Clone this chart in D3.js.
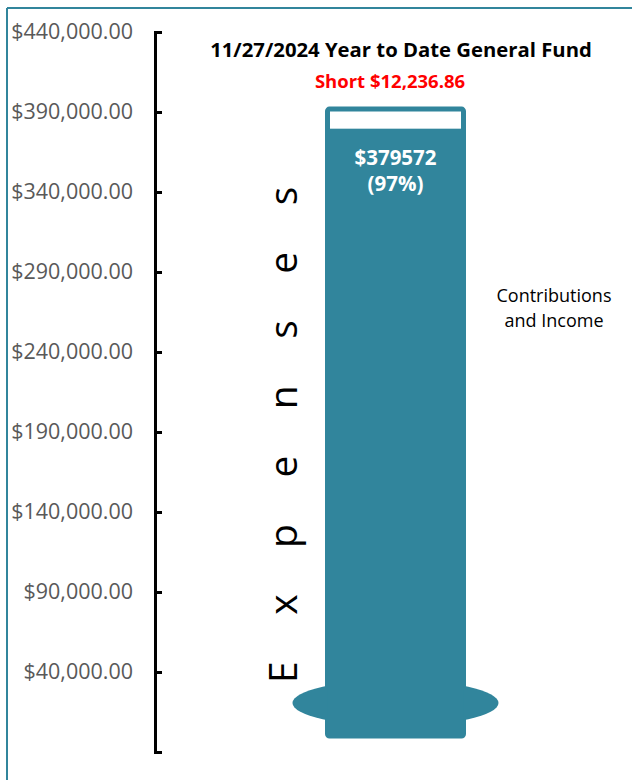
<!DOCTYPE html>
<html>
<head>
<meta charset="utf-8">
<script src="https://cdn.jsdelivr.net/npm/d3@7"></script>
<style>
  body { margin: 0; background: #fff; }
  svg { display: block; }
  text { font-family: "Open Sans", "Noto Sans", sans-serif; }
</style>
</head>
<body>
<div id="chart"></div>
<script>
// hodnoty grafu
var tickValues = [-10000, 40000, 90000, 140000, 190000, 240000, 290000, 340000, 390000, 440000];
var labelValues = [40000, 90000, 140000, 190000, 240000, 290000, 340000, 390000, 440000];
var raised = 379572;
var shortfall = 12236.86;
var goal = raised + shortfall;
var percent = 97;
var reportDate = "11/27/2024";
var sideLabels = ["Contributions", "and Income"];
var axisTitle = "Expenses";

var width = 632, height = 780;
var teal = "#31859C";

var svg = d3.select("#chart")
    .append("svg")
    .attr("width", width)
    .attr("height", height);

// orámovanie
svg.append("line").attr("x1", 7).attr("x2", 7).attr("y1", 8).attr("y2", height)
    .attr("stroke", teal).attr("stroke-width", 2);
svg.append("line").attr("x1", 7).attr("x2", width).attr("y1", 8).attr("y2", 8)
    .attr("stroke", teal).attr("stroke-width", 2);

// Y-ová os
var y = d3.scaleLinear()
    .domain([-10000, 440000])
    .range([752, 32]);

var fmt = d3.format("$,.2f");

svg.append("g")
    .attr("transform", "translate(155,0)")
    .call(d3.axisRight(y).tickValues(tickValues).tickSize(7).tickFormat(""))
    .call(function (g) {
        g.select(".domain").attr("stroke", "#000").attr("stroke-width", 3);
        g.selectAll(".tick line").attr("stroke", "#000").attr("stroke-width", 3);
    });

svg.append("g")
    .attr("transform", "translate(133,0)")
    .call(d3.axisLeft(y).tickValues(labelValues).tickSize(0).tickPadding(0).tickFormat(fmt))
    .call(function (g) {
        g.select(".domain").remove();
        g.selectAll("text")
            .attr("fill", "#595959")
            .attr("font-size", "21.5px")
            .attr("font-family", "Open Sans");
    });

// teplomer
var cx = 395.5, barW = 136;

svg.append("ellipse")
    .attr("cx", cx)
    .attr("cy", y(0) - 33)
    .attr("rx", 103)
    .attr("ry", 23)
    .attr("fill", teal);

// cieľ (obrys)
svg.append("rect")
    .attr("x", cx - barW / 2)
    .attr("y", y(goal))
    .attr("width", barW)
    .attr("height", y(0) - y(goal))
    .attr("rx", 2)
    .attr("fill", "#fff")
    .attr("stroke", teal)
    .attr("stroke-width", 5);

// vyzbierané
svg.append("rect")
    .attr("x", cx - barW / 2)
    .attr("y", y(raised))
    .attr("width", barW)
    .attr("height", y(0) - y(raised))
    .attr("fill", teal);

svg.append("text")
    .attr("x", cx)
    .attr("y", y(raised) + 36)
    .attr("text-anchor", "middle")
    .attr("fill", "#fff")
    .attr("font-weight", "bold")
    .attr("font-size", "20.5px")
    .text("$" + raised);

svg.append("text")
    .attr("x", cx)
    .attr("y", y(raised) + 62)
    .attr("text-anchor", "middle")
    .attr("fill", "#fff")
    .attr("font-weight", "bold")
    .attr("font-size", "20.5px")
    .text("(" + percent + "%)");

// nadpisy
svg.append("text")
    .attr("x", 401)
    .attr("y", 57)
    .attr("text-anchor", "middle")
    .attr("fill", "#000")
    .attr("font-weight", "bold")
    .attr("font-size", "20.3px")
    .text(reportDate + " Year to Date General Fund");

svg.append("text")
    .attr("x", 390)
    .attr("y", 88)
    .attr("text-anchor", "middle")
    .attr("fill", "#FF0000")
    .attr("font-weight", "bold")
    .attr("font-size", "18.5px")
    .text("Short " + fmt(shortfall));

// popis vpravo
svg.append("text")
    .attr("x", 554)
    .attr("y", 302)
    .attr("text-anchor", "middle")
    .attr("fill", "#000")
    .attr("font-size", "18px")
    .selectAll("tspan")
    .data(sideLabels)
    .enter()
    .append("tspan")
    .attr("x", 554)
    .attr("dy", function (d, i) { return i === 0 ? 0 : 25; })
    .text(function (d) { return d; });

// zvislý popis
svg.append("text")
    .attr("transform", "translate(297,683) rotate(-90)")
    .attr("fill", "#000")
    .attr("font-size", "39px")
    .attr("letter-spacing", "46.5px")
    .text(axisTitle);
</script>
</body>
</html>
